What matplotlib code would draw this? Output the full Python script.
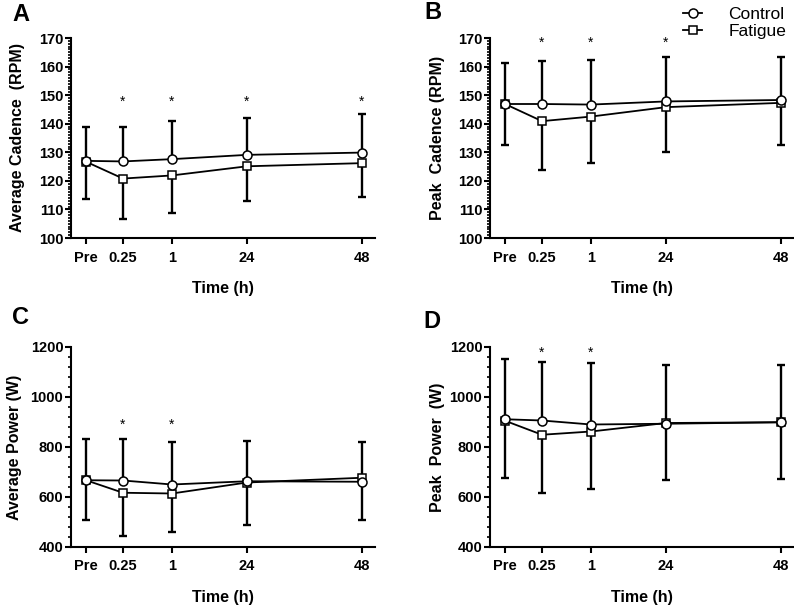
#!/usr/bin/env python3
"""Cadencia y potencia (Control vs Fatigue) en cuatro paneles A-D."""

import matplotlib

matplotlib.use("Agg")
import matplotlib.pyplot as plt
from matplotlib.ticker import MultipleLocator

plt.rcParams["font.family"] = ["Liberation Sans", "DejaVu Sans"]

# --- datos ---------------------------------------------------------------
time_labels = ["Pre", "0.25", "1", "24", "48"]

avg_cad_control = [127.0, 126.8, 127.6, 129.1, 129.9]
avg_cad_fatigue = [126.7, 120.8, 121.9, 125.1, 126.2]
avg_cad_control_sd = [11.7, 12.1, 13.4, 13.0, 13.5]
avg_cad_fatigue_sd = [12.9, 14.1, 13.0, 12.1, 11.7]
avg_cad_stars = ["0.25", "1", "24", "48"]

peak_cad_control = [146.9, 146.9, 146.7, 147.8, 148.3]
peak_cad_fatigue = [146.9, 140.9, 142.5, 145.8, 147.3]
peak_cad_control_sd = [14.5, 15.0, 15.7, 15.4, 14.9]
peak_cad_fatigue_sd = [14.5, 17.2, 16.4, 15.6, 14.8]
peak_cad_stars = ["0.25", "1", "24"]

avg_pow_control = [667, 666, 650, 663, 661]
avg_pow_fatigue = [667, 617, 614, 658, 677]
avg_pow_control_sd = [167, 165, 172, 163, 160]
avg_pow_fatigue_sd = [159, 173, 155, 168, 168]
avg_pow_stars = ["0.25", "1"]

peak_pow_control = [911, 906, 890, 893, 899]
peak_pow_fatigue = [905, 849, 862, 896, 899]
peak_pow_control_sd = [240, 235, 246, 235, 228]
peak_pow_fatigue_sd = [229, 233, 228, 228, 227]
peak_pow_stars = ["0.25", "1"]

# posicion horizontal de cada tiempo (eje no uniforme, como en el original)
X_POS = [0, 37, 86, 161, 276]
X_LIM = (-15, 289)

W, H = 794, 606


def px_axes(left, top, width, height):
    return [left / W, 1 - (top + height) / H, width / W, height / H]


def draw_panel(fig, rect, control, fatigue, c_sd, f_sd, stars, star_y,
               ylim, major, minor, ylabel, label_x, letter, letter_xy):
    ax = fig.add_axes(px_axes(*rect))
    pos = dict(zip(time_labels, X_POS))

    # barras de error: Control hacia arriba, Fatigue hacia abajo
    ax.errorbar(X_POS, fatigue, yerr=[f_sd, [0] * len(f_sd)], fmt="none",
                ecolor="black", elinewidth=1.7, capsize=3, capthick=1.7, zorder=2)
    ax.errorbar(X_POS, control, yerr=[[0] * len(c_sd), c_sd], fmt="none",
                ecolor="black", elinewidth=1.7, capsize=3, capthick=1.7, zorder=2)

    ax.plot(X_POS, fatigue, color="black", lw=1.3, marker="s", ms=5.8,
            mfc="white", mec="black", mew=1.1, zorder=3, label="Fatigue")
    ax.plot(X_POS, control, color="black", lw=1.3, marker="o", ms=6.5,
            mfc="white", mec="black", mew=1.1, zorder=4, label="Control")

    for t in stars:
        ax.annotate("*", (pos[t], star_y), xytext=(0, -5.5),
                    textcoords="offset points", ha="center", va="baseline",
                    fontsize=10, annotation_clip=False)

    ax.set_xlim(*X_LIM)
    ax.set_ylim(*ylim)
    ax.set_xticks(X_POS)
    ax.set_xticklabels(time_labels)
    ax.yaxis.set_major_locator(MultipleLocator(major))
    ax.yaxis.set_minor_locator(MultipleLocator(minor))

    for side in ("top", "right"):
        ax.spines[side].set_visible(False)
    for side in ("left", "bottom"):
        ax.spines[side].set_linewidth(1.5)

    ax.tick_params(axis="both", which="major", length=4, width=1.5,
                   labelsize=10.5, direction="out")
    ax.tick_params(axis="y", which="minor", length=2.2, width=1.2)
    ax.tick_params(axis="y", pad=1.5)
    ax.tick_params(axis="x", pad=5)
    for lbl in ax.get_xticklabels() + ax.get_yticklabels():
        lbl.set_fontweight("bold")

    ax.set_xlabel("Time (h)", fontsize=11.5, fontweight="bold")
    ax.xaxis.set_label_coords(0.5, -0.215)
    ax.set_ylabel(ylabel, fontsize=11.5, fontweight="bold")
    ax.yaxis.set_label_coords(label_x, 0.5)

    fig.text(letter_xy[0] / W, 1 - letter_xy[1] / H, letter, fontsize=17,
             fontweight="bold", ha="left", va="baseline")
    return ax


def main() -> None:
    fig = plt.figure(figsize=(W / 100, H / 100), dpi=100)

    draw_panel(fig, (71, 38, 304, 200), avg_cad_control, avg_cad_fatigue,
               avg_cad_control_sd, avg_cad_fatigue_sd, avg_cad_stars, 149,
               (100, 170), 10, 1, "Average Cadence  (RPM)", -0.151, "A", (12, 21))
    ax_b = draw_panel(fig, (490, 38, 304, 200), peak_cad_control, peak_cad_fatigue,
                      peak_cad_control_sd, peak_cad_fatigue_sd, peak_cad_stars, 169.6,
                      (100, 170), 10, 1, "Peak  Cadence (RPM)", -0.148, "B", (424, 19))
    draw_panel(fig, (71, 347, 304, 200), avg_pow_control, avg_pow_fatigue,
               avg_pow_control_sd, avg_pow_fatigue_sd, avg_pow_stars, 905,
               (400, 1200), 200, 40, "Average Power (W)", -0.16, "C", (12, 324))
    draw_panel(fig, (490, 347, 304, 200), peak_pow_control, peak_pow_fatigue,
               peak_pow_control_sd, peak_pow_fatigue_sd, peak_pow_stars, 1192,
               (400, 1200), 200, 40, "Peak  Power  (W)", -0.148, "D", (423, 328))

    handles, labels = ax_b.get_legend_handles_labels()
    fig.legend(handles[::-1], labels[::-1], loc="upper left",
               bbox_to_anchor=(683 / W, 1 - 6.5 / H), frameon=False,
               fontsize=12.5, handlelength=1.1, handletextpad=1.5,
               borderpad=0, borderaxespad=0, labelspacing=0.11)

    fig.savefig("out.png", dpi=100)


if __name__ == "__main__":
    main()
